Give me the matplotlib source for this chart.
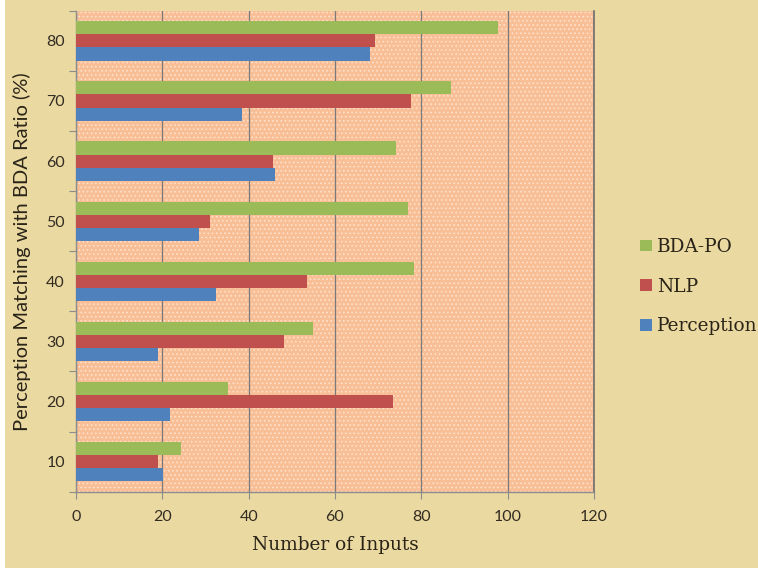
import numpy as np
import matplotlib
matplotlib.use("Agg")
import matplotlib.pyplot as plt
from matplotlib.patches import Rectangle

# Perception matching ratio groups and the three methods
ratios = ["10", "20", "30", "40", "50", "60", "70", "80"]
perception = [20.1, 21.8, 19.1, 32.4, 28.5, 46.1, 38.4, 68.1]
nlp = [18.9, 73.4, 48.2, 53.4, 31.0, 45.7, 77.7, 69.3]
bda_po = [24.4, 35.1, 55.0, 78.3, 77.0, 74.1, 86.8, 97.7]

series_names = ["Perception", "NLP", "BDA-PO"]
series_colors = ["#4F81BD", "#C0504D", "#9BBB59"]

paper = "#EBD9A2"
peach = "#F8BE96"
text_col = "#332C22"

plt.rcParams["hatch.linewidth"] = 0.7

fig = plt.figure(figsize=(7.58, 5.71), dpi=100, facecolor=paper)

# thin white margin on the left and bottom edges of the slide
fig.add_artist(Rectangle((0, 0), 5 / 758, 1, transform=fig.transFigure,
                         facecolor="white", edgecolor="none"))
fig.add_artist(Rectangle((0, 0), 1, 3 / 571, transform=fig.transFigure,
                         facecolor="white", edgecolor="none"))

ax = fig.add_axes([0.1003, 0.139, 0.6833, 0.842])
ax.set_facecolor(peach)

# dotted fill of the plot area
ax.add_patch(Rectangle((0, 0), 1, 1, transform=ax.transAxes, facecolor="none",
                       edgecolor="#FFE2CC", hatch="....", linewidth=0, zorder=0.5))

y = np.arange(len(ratios))
h = 0.218
for i, (vals, name, col) in enumerate(zip([perception, nlp, bda_po], series_names, series_colors)):
    ax.barh(y + (i - 1) * h, vals, height=h, color=col, label=name, zorder=3)

ax.set_xlim(0, 120)
ax.set_ylim(-0.5, len(ratios) - 0.5)
ax.set_xticks(range(0, 121, 20))

# category labels sit between the boundary ticks
ax.set_yticks(np.arange(-0.5, len(ratios), 1.0))
ax.set_yticklabels([])
ax.set_yticks(y, minor=True)
ax.set_yticklabels(ratios, minor=True)
ax.tick_params(axis="y", which="minor", length=0, pad=8)
ax.tick_params(axis="y", which="major", length=5, color="#8C8C8C", direction="out")
ax.tick_params(axis="x", length=5, color="#8C8C8C", direction="out", pad=8)

for lab in ax.get_xticklabels() + ax.get_yticklabels(minor=True):
    lab.set_fontfamily("Lato")
    lab.set_fontsize(11.5)
    lab.set_color(text_col)

ax.grid(axis="x", color="#7A7A7A", linewidth=0.9, zorder=1)
ax.axvline(120, color="#6E6E6E", linewidth=1.2, clip_on=False, zorder=1)
ax.set_axisbelow(True)
for side in ["top", "right"]:
    ax.spines[side].set_visible(False)
for side in ["left", "bottom"]:
    ax.spines[side].set_color("#8C8C8C")
    ax.spines[side].set_linewidth(1.0)

ax.set_xlabel("Number of Inputs", fontfamily="DejaVu Serif", fontsize=13.3,
              color="#2A2418", labelpad=9)
ax.set_ylabel("Perception Matching with BDA Ratio (%)", fontfamily="Lato",
              fontsize=14.5, color="#2A2418", labelpad=11)

handles, labels = ax.get_legend_handles_labels()
leg = fig.legend(handles[::-1], labels[::-1], loc="center left",
                 bbox_to_anchor=(0.823, 0.498), frameon=False,
                 prop={"family": "DejaVu Serif", "size": 13.3},
                 handlelength=0.6, handleheight=0.6, handletextpad=0.3,
                 labelspacing=1.17, labelcolor="#2A2418")

fig.savefig("out.png", dpi=100, facecolor=paper)
